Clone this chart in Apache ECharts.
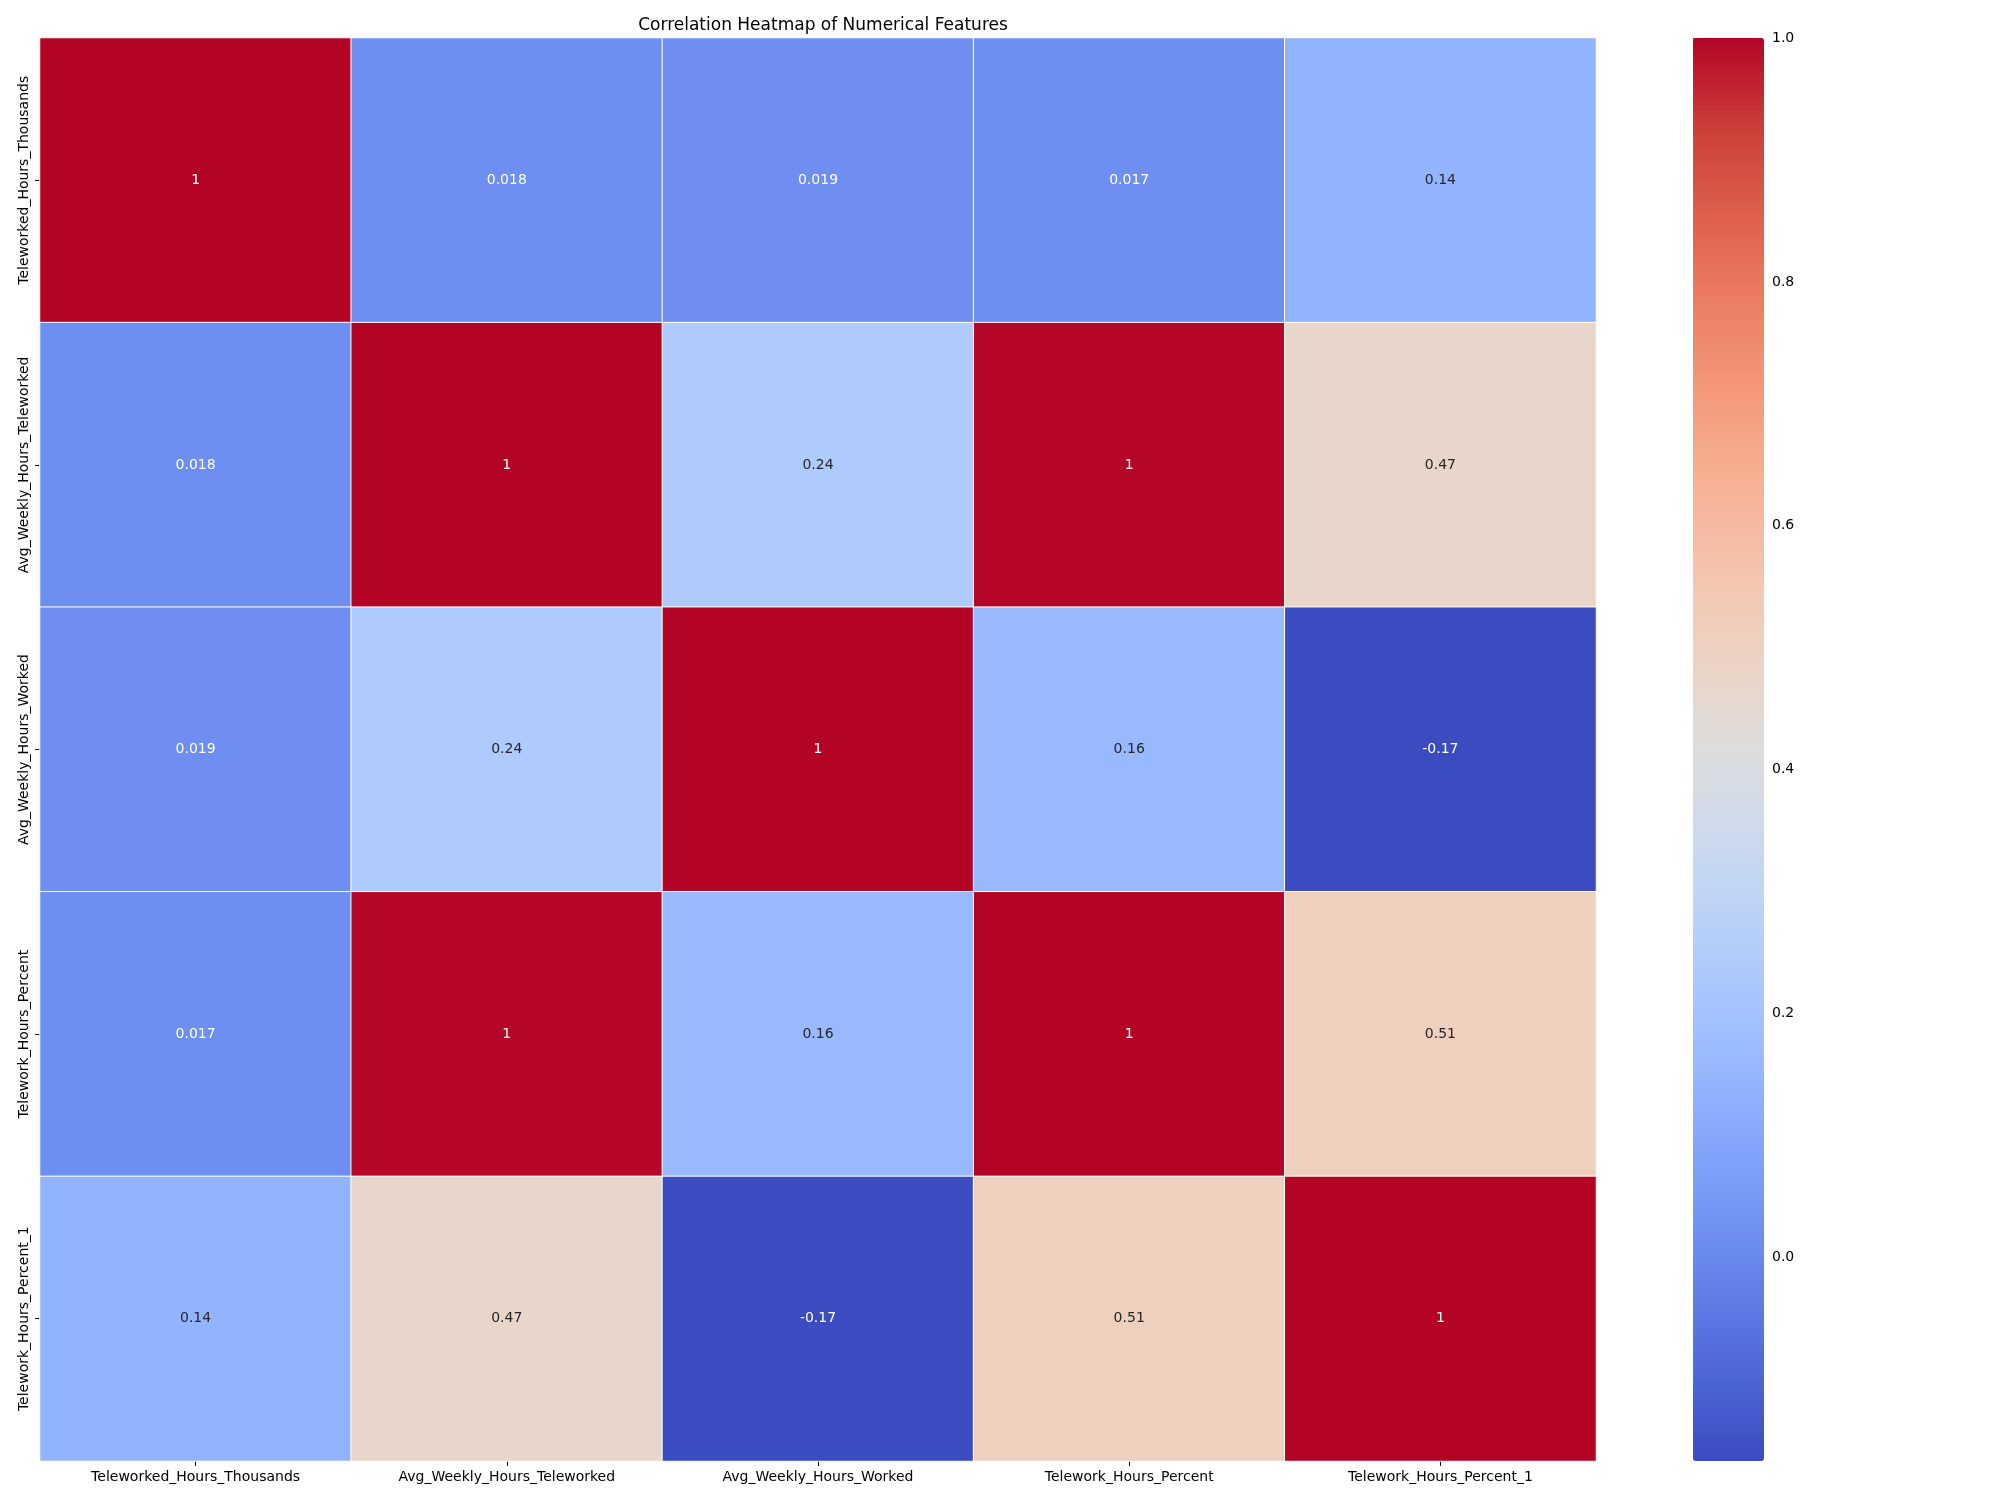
<!DOCTYPE html>
<html>
<head>
<meta charset="utf-8">
<title>Correlation Heatmap</title>
<script src="https://cdn.jsdelivr.net/npm/echarts@6/dist/echarts.min.js"></script>
<style>
    * {
        margin: 0;
        padding: 0;
    }

    body {
        background-color: #ffffff;
    }

    #main {
        width: 2000px;
        height: 1500px;
    }
</style>
</head>
<body>
<div id="main"></div>
<script>
    // feature names (columns == rows)
    const features = [
        'Teleworked_Hours_Thousands',
        'Avg_Weekly_Hours_Teleworked',
        'Avg_Weekly_Hours_Worked',
        'Telework_Hours_Percent',
        'Telework_Hours_Percent_1'
    ];

    // correlation rows
    const rowTeleworkedHours = [1, 0.018, 0.019, 0.017, 0.14];
    const rowAvgTeleworked = [0.018, 1, 0.24, 0.996, 0.47];
    const rowAvgWorked = [0.019, 0.24, 1, 0.16, -0.167];
    const rowPercent = [0.017, 0.996, 0.16, 1, 0.51];
    const rowPercent1 = [0.14, 0.47, -0.167, 0.51, 1];
    const corrRows = [rowTeleworkedHours, rowAvgTeleworked, rowAvgWorked, rowPercent, rowPercent1];

    // colorbar range and ticks
    const colorMin = -0.167;
    const colorMax = 1;
    const colorTicks = [0, 0.2, 0.4, 0.6, 0.8, 1.0];

    // matplotlib coolwarm, sampled
    const coolwarm = ['#3b4cc0', '#4d68d7', '#6282ea', '#779af7', '#8db0fe', '#a3c2ff', '#b8d0f9', '#ccd9ee',
        '#dddddd', '#ecd3c5', '#f5c4ad', '#f7b194', '#f49a7b', '#ec7f63', '#de604d', '#cb3e38', '#b40426'];

    const heatData = [];
    for (let r = 0; r < corrRows.length; r++) {
        for (let c = 0; c < corrRows[r].length; c++) {
            heatData.push([c, r, corrRows[r][c]]);
        }
    }

    // seaborn style ".2g"
    function fmt(v) {
        return String(Number(v.toPrecision(2)));
    }

    const fontFamily = 'DejaVu Sans';
    const chart = echarts.init(document.getElementById('main'));

    const option = {
        backgroundColor: '#ffffff',
        textStyle: {fontFamily: fontFamily},
        title: {
            text: 'Correlation Heatmap of Numerical Features',
            left: 818,
            top: 12,
            textAlign: 'center',
            textStyle: {fontFamily: fontFamily, fontSize: 17, fontWeight: 'normal', color: '#000'}
        },
        grid: [
            {left: 40, top: 38, width: 1556, height: 1423},
            {left: 1693, top: 38, width: 71, height: 1423}
        ],
        xAxis: [
            {
                type: 'category',
                data: features,
                gridIndex: 0,
                axisLine: {show: false},
                axisTick: {show: true, alignWithLabel: true, length: 5, lineStyle: {color: '#000'}},
                axisLabel: {fontSize: 14, color: '#000', margin: 9, fontFamily: fontFamily},
                splitLine: {show: false}
            },
            {
                type: 'value',
                gridIndex: 1,
                show: false
            }
        ],
        yAxis: [
            {
                type: 'category',
                data: features,
                inverse: true,
                gridIndex: 0,
                axisLine: {show: false},
                axisTick: {show: true, alignWithLabel: true, length: 5, lineStyle: {color: '#000'}},
                axisLabel: {fontSize: 14, color: '#000', rotate: 90, margin: 9, fontFamily: fontFamily},
                splitLine: {show: false}
            },
            {
                type: 'value',
                gridIndex: 1,
                position: 'right',
                min: colorMin,
                max: colorMax,
                axisLine: {show: false},
                axisTick: {show: true, length: 5, customValues: colorTicks, lineStyle: {color: '#000'}},
                axisLabel: {
                    fontSize: 14,
                    color: '#000',
                    margin: 8,
                    fontFamily: fontFamily,
                    customValues: colorTicks,
                    formatter: function (v) {
                        return v.toFixed(1);
                    }
                },
                splitLine: {show: false}
            }
        ],
        visualMap: {
            type: 'continuous',
            seriesIndex: 0,
            min: colorMin,
            max: colorMax,
            calculable: false,
            hoverLink: false,
            orient: 'vertical',
            left: 1693,
            top: 38,
            itemWidth: 71,
            itemHeight: 1423,
            padding: 0,
            text: null,
            showLabel: false,
            inRange: {color: coolwarm}
        },
        series: [
            {
                type: 'heatmap',
                xAxisIndex: 0,
                yAxisIndex: 0,
                data: heatData,
                itemStyle: {borderColor: '#ffffff', borderWidth: 1},
                label: {
                    show: true,
                    fontSize: 14,
                    fontFamily: fontFamily,
                    formatter: function (p) {
                        return fmt(p.value[2]);
                    },
                    color: '#fff'
                },
                emphasis: {disabled: true}
            }
        ]
    };

    // dark text on light cells, like seaborn
    option.series[0].data = heatData.map(function (d) {
        const v = d[2];
        const light = v > 0.1 && v < 0.8;
        return {value: d, label: {color: light ? '#262626' : '#ffffff'}};
    });

    chart.setOption(option);
</script>
</body>
</html>
